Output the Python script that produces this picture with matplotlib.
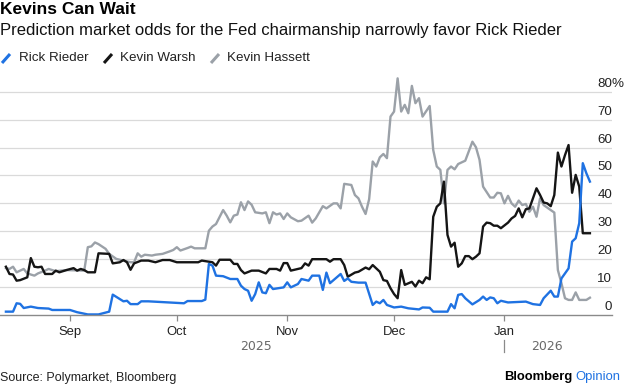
import matplotlib
matplotlib.use('Agg')
import matplotlib.pyplot as plt
import matplotlib.dates as mdates
import matplotlib.transforms as mtransforms
from matplotlib.lines import Line2D
import numpy as np

plt.rcParams['font.family'] = ['Liberation Sans', 'DejaVu Sans']

# --- data (Polymarket odds, %) ---
rieder_dates = [
    '2025-08-14', '2025-08-16', '2025-08-17', '2025-08-18', '2025-08-19', '2025-08-21',
    '2025-08-23', '2025-08-26', '2025-08-27', '2025-09-01', '2025-09-03', '2025-09-06',
    '2025-09-09', '2025-09-12', '2025-09-13', '2025-09-15', '2025-09-16', '2025-09-17',
    '2025-09-18', '2025-09-20', '2025-09-21', '2025-09-23', '2025-10-03', '2025-10-04',
    '2025-10-08', '2025-10-09', '2025-10-10', '2025-10-11', '2025-10-12', '2025-10-14',
    '2025-10-16', '2025-10-18', '2025-10-19', '2025-10-20', '2025-10-21', '2025-10-22',
    '2025-10-23', '2025-10-24', '2025-10-25', '2025-10-26', '2025-10-27', '2025-10-28',
    '2025-10-31', '2025-11-01', '2025-11-02', '2025-11-04', '2025-11-05', '2025-11-07',
    '2025-11-08', '2025-11-10', '2025-11-11', '2025-11-12', '2025-11-13', '2025-11-14',
    '2025-11-16', '2025-11-17', '2025-11-18', '2025-11-19', '2025-11-21', '2025-11-23',
    '2025-11-25', '2025-11-26', '2025-11-27', '2025-11-28', '2025-11-29', '2025-12-01',
    '2025-12-03', '2025-12-05', '2025-12-08', '2025-12-09', '2025-12-11', '2025-12-12',
    '2025-12-16', '2025-12-17', '2025-12-18', '2025-12-19', '2025-12-20', '2025-12-21',
    '2025-12-23', '2025-12-25', '2025-12-26', '2025-12-27', '2025-12-28', '2025-12-29',
    '2025-12-30', '2025-12-31', '2026-01-02', '2026-01-07', '2026-01-09', '2026-01-11',
    '2026-01-12', '2026-01-14', '2026-01-15', '2026-01-16', '2026-01-17', '2026-01-19',
    '2026-01-20', '2026-01-21', '2026-01-22', '2026-01-23', '2026-01-24', '2026-01-25']
rieder = [
    1.2, 1.2, 4.2, 4.0, 2.5, 3.0, 2.5, 2.3, 1.8, 1.8, 1.0, 0.2,
    0.2, 1.2, 7.3, 5.7, 4.9, 5.1, 3.9, 3.9, 4.9, 4.9, 4.2, 5.0,
    5.0, 5.5, 18.3, 17.7, 14.1, 13.9, 12.9, 12.9, 10.5, 9.3, 8.7, 5.1,
    7.5, 11.7, 8.1, 7.8, 10.8, 9.3, 9.9, 11.7, 9.9, 11.1, 12.9, 12.3,
    14.1, 14.1, 9.0, 15.2, 11.4, 12.5, 14.7, 12.2, 13.1, 11.9, 11.6, 11.6,
    3.6, 4.8, 4.2, 5.4, 3.6, 2.7, 3.0, 2.4, 2.0, 2.7, 2.6, 1.2,
    1.2, 3.9, 2.4, 7.2, 7.5, 6.0, 3.8, 5.4, 6.6, 5.4, 6.3, 6.0,
    4.2, 5.1, 4.5, 4.8, 3.9, 3.6, 6.0, 8.7, 6.6, 6.6, 13.1, 16.7,
    26.3, 27.5, 32.9, 54.4, 50.8, 47.8]

warsh_dates = [
    '2025-08-14', '2025-08-15', '2025-08-16', '2025-08-17', '2025-08-18', '2025-08-20',
    '2025-08-21', '2025-08-22', '2025-08-23', '2025-08-24', '2025-08-25', '2025-08-27',
    '2025-08-28', '2025-08-29', '2025-08-31', '2025-09-02', '2025-09-03', '2025-09-04',
    '2025-09-05', '2025-09-06', '2025-09-08', '2025-09-09', '2025-09-12', '2025-09-13',
    '2025-09-15', '2025-09-16', '2025-09-17', '2025-09-18', '2025-09-19', '2025-09-21',
    '2025-09-23', '2025-09-25', '2025-09-27', '2025-09-29', '2025-10-01', '2025-10-07',
    '2025-10-08', '2025-10-11', '2025-10-12', '2025-10-13', '2025-10-16', '2025-10-17',
    '2025-10-18', '2025-10-19', '2025-10-20', '2025-10-22', '2025-10-24', '2025-10-26',
    '2025-10-27', '2025-10-29', '2025-10-30', '2025-10-31', '2025-11-01', '2025-11-02',
    '2025-11-04', '2025-11-05', '2025-11-06', '2025-11-07', '2025-11-08', '2025-11-12',
    '2025-11-13', '2025-11-14', '2025-11-16', '2025-11-17', '2025-11-18', '2025-11-20',
    '2025-11-21', '2025-11-23', '2025-11-24', '2025-11-25', '2025-11-27', '2025-11-28',
    '2025-11-29', '2025-11-30', '2025-12-01', '2025-12-02', '2025-12-03', '2025-12-04',
    '2025-12-06', '2025-12-07', '2025-12-08', '2025-12-09', '2025-12-10', '2025-12-11',
    '2025-12-12', '2025-12-13', '2025-12-14', '2025-12-15', '2025-12-16', '2025-12-17',
    '2025-12-18', '2025-12-19', '2025-12-20', '2025-12-21', '2025-12-22', '2025-12-23',
    '2025-12-24', '2025-12-25', '2025-12-26', '2025-12-27', '2025-12-28', '2025-12-29',
    '2025-12-30', '2025-12-31', '2026-01-02', '2026-01-03', '2026-01-04', '2026-01-05',
    '2026-01-06', '2026-01-07', '2026-01-08', '2026-01-09', '2026-01-10', '2026-01-11',
    '2026-01-12', '2026-01-13', '2026-01-14', '2026-01-15', '2026-01-16', '2026-01-17',
    '2026-01-18', '2026-01-19', '2026-01-20', '2026-01-21', '2026-01-22', '2026-01-23',
    '2026-01-25']
warsh = [
    17.3, 14.7, 14.5, 12.3, 12.5, 13.5, 20.4, 17.3, 17.1, 17.3, 14.7, 14.7,
    15.9, 15.3, 16.1, 16.8, 15.9, 16.5, 16.1, 15.3, 15.3, 22.1, 21.9, 18.5,
    18.9, 19.7, 18.9, 16.2, 18.5, 19.5, 19.5, 18.9, 19.7, 19.7, 18.9, 18.9,
    19.5, 18.9, 17.7, 19.8, 19.8, 18.3, 18.3, 16.1, 14.9, 15.9, 15.9, 14.9,
    16.5, 16.5, 15.9, 18.6, 18.6, 15.9, 16.5, 16.8, 18.5, 17.7, 20.0, 20.0,
    19.1, 20.0, 20.0, 17.9, 13.7, 15.2, 15.5, 17.0, 16.4, 17.9, 15.5, 12.5,
    12.2, 9.6, 7.5, 6.0, 16.1, 10.8, 11.9, 10.2, 12.3, 11.4, 13.5, 12.8,
    35.2, 38.8, 40.0, 47.8, 28.7, 24.5, 25.9, 17.3, 18.5, 21.1, 21.1, 20.0,
    20.9, 22.1, 31.7, 33.1, 32.9, 32.0, 32.0, 31.1, 33.1, 34.6, 35.5, 38.2,
    35.0, 37.9, 38.2, 41.8, 45.4, 43.0, 40.3, 40.0, 39.0, 43.0, 58.2, 53.2,
    57.3, 60.9, 43.8, 50.2, 46.0, 29.3, 29.3]

hassett_dates = [
    '2025-08-14', '2025-08-15', '2025-08-16', '2025-08-17', '2025-08-19', '2025-08-20',
    '2025-08-22', '2025-08-23', '2025-08-25', '2025-08-26', '2025-08-28', '2025-08-31',
    '2025-09-05', '2025-09-06', '2025-09-07', '2025-09-08', '2025-09-09', '2025-09-11',
    '2025-09-12', '2025-09-14', '2025-09-16', '2025-09-18', '2025-09-19', '2025-09-20',
    '2025-09-21', '2025-09-22', '2025-09-24', '2025-09-25', '2025-09-27', '2025-09-29',
    '2025-09-30', '2025-10-01', '2025-10-02', '2025-10-04', '2025-10-05', '2025-10-06',
    '2025-10-09', '2025-10-10', '2025-10-11', '2025-10-12', '2025-10-14', '2025-10-15',
    '2025-10-16', '2025-10-17', '2025-10-18', '2025-10-19', '2025-10-20', '2025-10-21',
    '2025-10-22', '2025-10-23', '2025-10-25', '2025-10-26', '2025-10-27', '2025-10-28',
    '2025-10-29', '2025-10-30', '2025-10-31', '2025-11-01', '2025-11-02', '2025-11-04',
    '2025-11-05', '2025-11-07', '2025-11-08', '2025-11-09', '2025-11-11', '2025-11-12',
    '2025-11-14', '2025-11-15', '2025-11-16', '2025-11-17', '2025-11-19', '2025-11-20',
    '2025-11-21', '2025-11-22', '2025-11-23', '2025-11-24', '2025-11-25', '2025-11-26',
    '2025-11-27', '2025-11-28', '2025-11-29', '2025-11-30', '2025-12-01', '2025-12-02',
    '2025-12-03', '2025-12-04', '2025-12-05', '2025-12-06', '2025-12-07', '2025-12-08',
    '2025-12-09', '2025-12-11', '2025-12-12', '2025-12-13', '2025-12-14', '2025-12-15',
    '2025-12-16', '2025-12-17', '2025-12-18', '2025-12-19', '2025-12-21', '2025-12-23',
    '2025-12-24', '2025-12-25', '2025-12-26', '2025-12-28', '2025-12-29', '2025-12-30',
    '2025-12-31', '2026-01-01', '2026-01-02', '2026-01-03', '2026-01-04', '2026-01-05',
    '2026-01-06', '2026-01-07', '2026-01-08', '2026-01-09', '2026-01-10', '2026-01-11',
    '2026-01-12', '2026-01-14', '2026-01-15', '2026-01-16', '2026-01-17', '2026-01-18',
    '2026-01-19', '2026-01-20', '2026-01-21', '2026-01-22', '2026-01-24', '2026-01-25']
hassett = [
    16.8, 16.5, 17.3, 15.3, 16.5, 14.9, 14.1, 14.9, 15.9, 16.5, 15.7, 16.1,
    15.9, 24.3, 24.6, 26.0, 25.4, 23.7, 21.9, 20.1, 19.5, 18.9, 18.9, 22.1,
    20.9, 21.6, 21.3, 21.6, 21.9, 22.8, 23.3, 24.3, 23.1, 24.0, 24.5, 23.9,
    23.9, 30.2, 31.7, 32.6, 37.6, 35.6, 33.2, 35.6, 36.0, 40.4, 37.6, 40.7,
    39.5, 36.8, 36.4, 36.8, 32.9, 36.8, 36.0, 36.4, 34.4, 36.4, 35.0, 33.6,
    33.8, 35.6, 33.1, 34.6, 39.0, 38.2, 40.0, 40.0, 38.2, 47.0, 46.6, 43.0,
    41.8, 38.8, 36.2, 41.5, 55.0, 53.2, 56.5, 57.7, 56.2, 71.1, 72.9, 84.8,
    72.9, 75.3, 72.3, 82.1, 75.9, 77.7, 71.1, 74.9, 59.1, 53.2, 52.0, 40.0,
    52.0, 53.2, 52.2, 54.1, 55.3, 62.1, 60.1, 55.6, 46.0, 42.1, 42.1, 43.8,
    43.6, 40.0, 42.7, 40.0, 38.8, 41.0, 39.4, 39.8, 37.0, 38.8, 35.2, 41.8,
    39.4, 37.6, 36.7, 16.1, 11.4, 6.0, 5.4, 5.4, 8.1, 5.4, 5.4, 6.2]

month_ticks = ['2025-09-01', '2025-10-01', '2025-11-01', '2025-12-01', '2026-01-01']
month_labels = ['Sep', 'Oct', 'Nov', 'Dec', 'Jan']
y_ticks = [0, 10, 20, 30, 40, 50, 60, 70, 80]

BLUE = '#1f72e2'
BLACK = '#151515'
GRAY = '#9ba1a8'

W, H = 624, 386
fig = plt.figure(figsize=(W / 100, H / 100), dpi=100)


def fx(x):
    return x / W


def fy(y):
    return 1 - y / H


ax = fig.add_axes([0, fy(315), fx(612), (315 - 75) / H])

to_dt = lambda lst: mdates.datestr2num(lst)
ax.plot(to_dt(hassett_dates), hassett, color=GRAY, lw=1.7, solid_joinstyle='round')
ax.plot(to_dt(warsh_dates), warsh, color=BLACK, lw=1.7, solid_joinstyle='round')
ax.plot(to_dt(rieder_dates), rieder, color=BLUE, lw=1.7, solid_joinstyle='round')

x0 = mdates.datestr2num('2025-09-01')
ax.set_xlim(x0 - 19.66, x0 + 152.2)
ax.set_ylim(0, 86)

for s in ['top', 'left', 'right']:
    ax.spines[s].set_visible(False)
ax.spines['bottom'].set_color('#8a8a8a')
ax.spines['bottom'].set_linewidth(1.0)

ax.set_yticks(y_ticks[1:])
ax.yaxis.grid(True, color='#dadada', lw=0.9)
ax.set_axisbelow(True)
ax.tick_params(axis='y', length=0, labelleft=False)

ax.set_xticks(to_dt(month_ticks))
ax.set_xticklabels(month_labels)
ax.tick_params(axis='x', length=4, width=0.9, color='#8a8a8a', pad=4,
               labelsize=9.4, labelcolor='#222222')

# y labels sit just above their gridlines on the right
trans = mtransforms.blended_transform_factory(ax.transAxes, ax.transData)
trans = mtransforms.offset_copy(trans, fig=fig, y=5, units='dots')
for v in y_ticks:
    ax.text(1.0, v, str(v), transform=trans, ha='right', va='baseline',
            fontsize=9.6, color='#222222')
ax.text(1.0, 80, '%', transform=trans, ha='left', va='baseline',
        fontsize=9.6, color='#222222')

# year row
fig.text(fx(256), fy(346), '2025', ha='center', va='center', fontsize=9,
         color='#6a6a6a', family='DejaVu Sans')
fig.text(fx(547), fy(346), '2026', ha='center', va='center', fontsize=9,
         color='#6a6a6a', family='DejaVu Sans')
fig.add_artist(Line2D([fx(504), fx(504)], [fy(340), fy(352)], color='#8a8a8a', lw=0.9))

# titles
fig.text(0, fy(10), 'Kevins Can Wait', fontsize=12.5, weight='bold',
         va='center', ha='left', color='#000000')
fig.text(0, fy(31), 'Prediction market odds for the Fed chairmanship narrowly favor Rick Rieder',
         fontsize=11.95, va='center', ha='left', color='#111111')

# legend
legend = [('Rick Rieder', BLUE, 2, 19), ('Kevin Warsh', BLACK, 104, 120),
          ('Kevin Hassett', GRAY, 211, 227)]
for name, col, mx, tx in legend:
    fig.add_artist(Line2D([fx(mx), fx(mx + 8)], [fy(63), fy(54)], color=col, lw=2.2,
                          solid_capstyle='butt'))
    fig.text(fx(tx), fy(58), name, fontsize=9.6, va='center', ha='left', color='#222222')

# footer
fig.text(0, fy(378), 'Source: Polymarket, Bloomberg', fontsize=9, va='center',
         ha='left', color='#222222')
fig.text(fx(572), fy(377), 'Bloomberg', fontsize=9.4, weight='bold', va='center',
         ha='right', color='#000000')
fig.text(fx(575), fy(377), 'Opinion', fontsize=9.4, va='center', ha='left',
         color='#1f72e2')

fig.savefig('out.png', dpi=100)
